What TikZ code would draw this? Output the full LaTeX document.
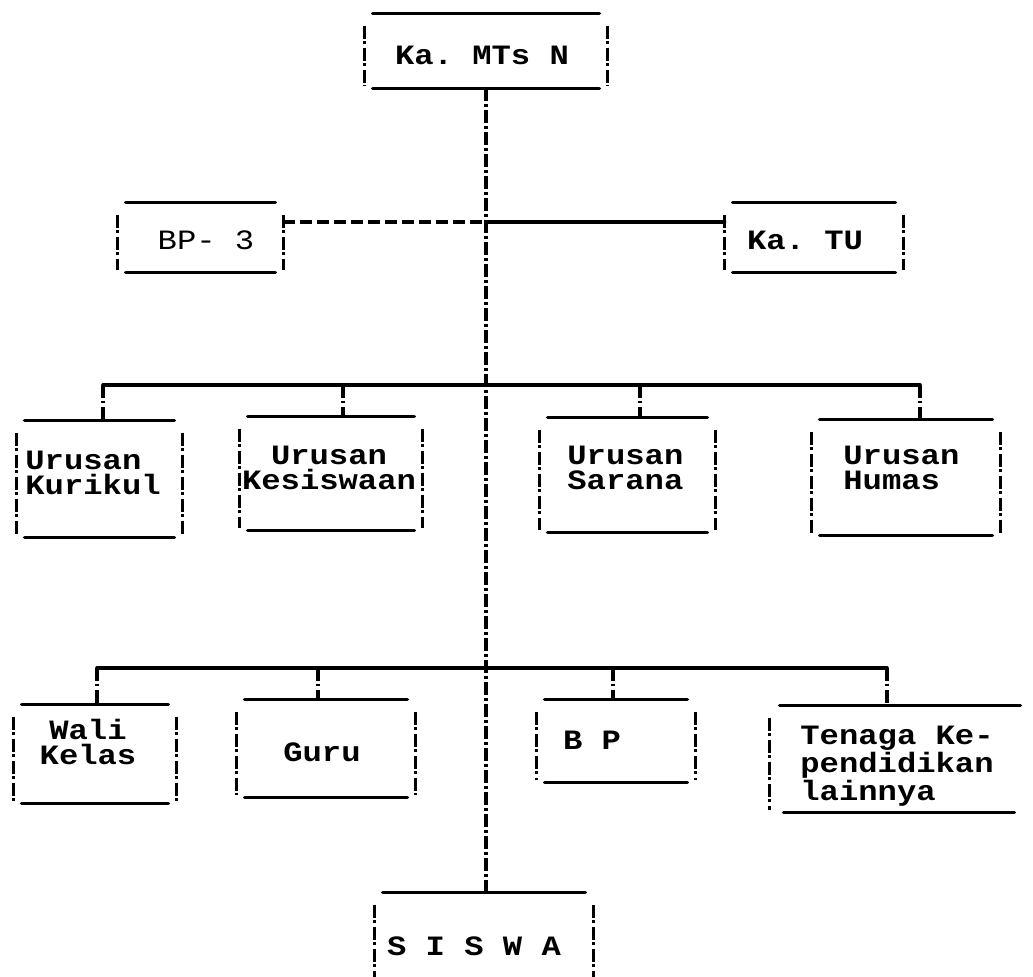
\documentclass[tikz,border=0pt]{standalone}
\usepackage{fontspec}
\setmonofont[FakeStretch=1.15]{Liberation Mono}
\usetikzlibrary{fit}
\tikzset{
  frame/.style={inner sep=0pt, draw=none},
  hline/.style={line width=1.8pt, line cap=round},
  excl/.style={line width=1.6pt, dash pattern=on 6.5pt off 1.3pt on 1.4pt off 1.8pt},
  dline/.style={line width=1.6pt, dash pattern=on 6pt off 2.5pt},
  lbl/.style={font=\ttfamily\bfseries\fontsize{14}{12.5}\selectfont, inner sep=0pt, align=#1},
  lbl/.default=center,
  lbllight/.style={font=\ttfamily\fontsize{14}{12.5}\selectfont, inner sep=0pt}
}
\newcommand\tbox[5]{% name x1 y1 x2 y2
  \node[frame, fit={(#2,#3) (#4,#5)}] (#1) {};
  \draw[hline] ([xshift=4pt]#1.north west) -- ([xshift=-4pt]#1.north east);
  \draw[hline] ([xshift=4pt]#1.south west) -- ([xshift=-4pt]#1.south east);
  \draw[excl] ([yshift=-6pt]#1.north west) -- ([yshift=1pt]#1.south west);
  \draw[excl] ([yshift=-6pt]#1.north east) -- ([yshift=1pt]#1.south east);
}
\begin{document}
\begin{tikzpicture}[x=0.5pt,y=-0.5pt]
\fill[white] (0,0) rectangle (1033,976);
\useasboundingbox (0,0) rectangle (1033,976);
\clip (0,0) rectangle (1033,976);

% boxes
\tbox{top}{365}{14}{607}{88}
\tbox{bp3}{118}{203}{283}{272}
\tbox{katu}{725}{203}{903}{272}
\tbox{kurikul}{17}{421}{182}{537}
\tbox{kesiswaan}{240}{417}{422}{530}
\tbox{sarana}{540}{418}{715}{532}
\tbox{humas}{812}{420}{1000}{535}
\tbox{wali}{14}{705}{176}{803}
\tbox{guru}{237}{700}{415}{797}
\tbox{bp}{537}{700}{695}{782}
\tbox{siswa}{375}{893}{593}{985}
% Tenaga box (open on the right)
\node[frame, fit={(770,706) (1020,812)}] (tenaga) {};
\draw[hline] ([xshift=5pt]tenaga.north west) -- (tenaga.north east);
\draw[hline] ([xshift=7pt]tenaga.south west) -- ([xshift=-3pt]tenaga.south east);
\draw[excl] ([yshift=-6pt]tenaga.north west) -- ([yshift=1pt]tenaga.south west);

% labels
\node[lbl] (t-top) at (482,55) {Ka. MTs N};
\node[lbllight] (t-bp3) at (206,240) {BP- 3};
\node[lbl] (t-katu) at (805,240) {Ka. TU};
\node[lbl=left, anchor=west] (t-kurikul) at (25,473) {Urusan\\Kurikul};
\node[lbl] (t-kesiswaan) at (329,468) {Urusan\\Kesiswaan};
\node[lbl=left, anchor=west] (t-sarana) at (567,468) {Urusan\\Sarana};
\node[lbl=left, anchor=west] (t-humas) at (843,468) {Urusan\\Humas};
\node[lbl] (t-wali) at (88,742) {Wali\\Kelas};
\node[lbl] (t-guru) at (322,752) {Guru};
\node[lbl] (t-bp) at (592,740) {B P};
\node[lbl=left, anchor=west] (t-tenaga) at (800,766) {Tenaga Ke-\\pendidikan\\lainnya};
\node[lbl] (t-siswa) at (474,946) {S I S W A};

% junction coordinates
\coordinate (j1) at (486,222);
\coordinate (a1) at (103,385);
\coordinate (a2) at (343,385);
\coordinate (a3) at (640,385);
\coordinate (a4) at (920,385);
\coordinate (b1) at (97,668);
\coordinate (b2) at (318,668);
\coordinate (b3) at (613,668);
\coordinate (b4) at (887,668);

% main vertical line of command
\draw[excl] (top.south) -- (top.south |- siswa.north);

% staff lines
\draw[dline] (bp3.east |- j1) -- (j1);
\draw[hline] (j1) -- (katu.west |- j1);

% first row bus
\draw[hline] (a1) -- (a4);
\draw[excl] (a1) -- (a1 |- kurikul.north);
\draw[excl] (a2) -- (a2 |- kesiswaan.north);
\draw[excl] (a3) -- (a3 |- sarana.north);
\draw[excl] (a4) -- (a4 |- humas.north);

% second row bus
\draw[hline] (b1) -- (b4);
\draw[excl] (b1) -- (b1 |- wali.north);
\draw[excl] (b2) -- (b2 |- guru.north);
\draw[excl] (b3) -- (b3 |- bp.north);
\draw[excl] (b4) -- (b4 |- tenaga.north);
\end{tikzpicture}
\end{document}
